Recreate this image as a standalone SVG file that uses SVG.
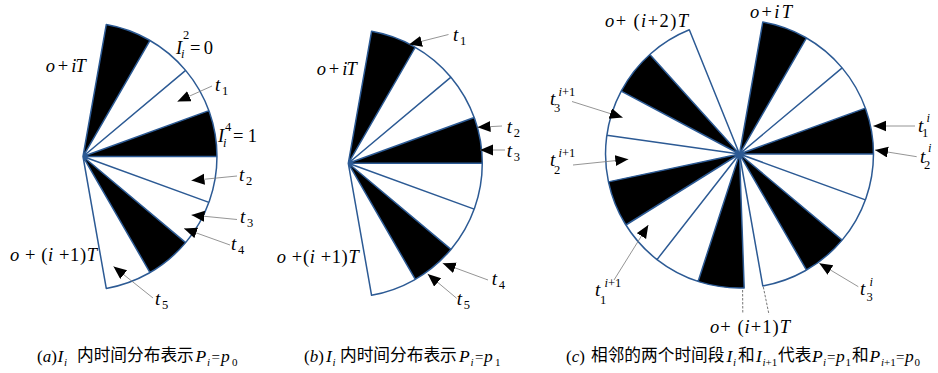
<svg xmlns="http://www.w3.org/2000/svg" xmlns:xlink="http://www.w3.org/1999/xlink" width="938" height="373" viewBox="0 0 938 373">
<style>
.ln{fill:none;stroke:#2C5A94;stroke-width:1.5;stroke-linejoin:round}
.bk{fill:#000}
.ld{fill:none;stroke:#7a7a7a;stroke-width:0.8;marker-end:url(#ah)}
.dsh{fill:none;stroke:#666;stroke-width:0.9;stroke-dasharray:2.5 1.5}
text{font-family:"Liberation Serif","Times New Roman",serif;fill:#000}
.m{font-size:18.5px;font-style:italic}
.t{font-size:19px;font-style:italic}
.s{font-size:12.5px;font-style:normal}
.si{font-size:12.5px;font-style:italic}
.n{font-style:normal}
.cp{font-size:17px}
.ci{font-size:17.5px;font-style:italic}
.ce{font-size:15px}
.cs{font-size:11px;font-style:normal}
.csi{font-size:11px;font-style:italic}
.cj{font-family:"Noto Sans CJK SC",sans-serif;font-size:16.7px}
</style>
<defs>
<marker id="ah" markerUnits="userSpaceOnUse" markerWidth="14" markerHeight="12" refX="13" refY="5.5" orient="auto" viewBox="0 0 14 12"><path d="M0,0 L13,5.5 L0,11 Z" fill="#000"/></marker>
<g id="fan">
<path class="bk" d="M0,0 L23.27,-131.96 A134,134 0 0 1 67,-116.05 Z M0,0 L125.92,-45.83 A134,134 0 0 1 134,0 Z M0,0 L102.65,86.13 A134,134 0 0 1 67,116.05 Z"/>
<path class="ln" d="M0,0 L23.27,-131.96 A134,134 0 0 1 23.27,131.96 Z M0,0 L67,-116.05 M0,0 L102.65,-86.13 M0,0 L125.92,-45.83 M0,0 L134,0 M0,0 L125.92,45.83 M0,0 L102.65,86.13 M0,0 L67,116.05"/>
</g>
</defs>

<!-- Panel a -->
<g id="panel-a">
<use xlink:href="#fan" href="#fan" transform="translate(83,156.5)"/>
<text class="m" x="45.7" y="72" textLength="40" lengthAdjust="spacing">o <tspan class="n">+</tspan> iT</text>
<text class="m" x="10" y="261" textLength="87" lengthAdjust="spacing">o <tspan class="n">+ (</tspan>i <tspan class="n">+1)</tspan>T</text>
<text class="m" x="176" y="54">I</text><text class="s" x="183" y="39">2</text><text class="si" x="181" y="58">i</text><text class="m n" x="190" y="54" textLength="23" lengthAdjust="spacing">=0</text>
<text class="m" x="218" y="142">I</text><text class="s" x="225" y="131">4</text><text class="si" x="223" y="147">i</text><text class="m n" x="233" y="142" textLength="24" lengthAdjust="spacing">=1</text>
<text class="t" x="215" y="91">t</text><text class="s" x="222" y="95">1</text>
<text class="t" x="239" y="181">t</text><text class="s" x="246" y="185">2</text>
<text class="t" x="240" y="223">t</text><text class="s" x="247" y="227">3</text>
<text class="t" x="231" y="250">t</text><text class="s" x="238" y="254">4</text>
<text class="t" x="155" y="305">t</text><text class="s" x="162" y="309">5</text>
</g>

<!-- Panel b -->
<g id="panel-b">
<use xlink:href="#fan" href="#fan" transform="translate(348.3,163.3)"/>
<text class="m" x="316.7" y="75" textLength="40" lengthAdjust="spacing">o <tspan class="n">+</tspan> iT</text>
<text class="m" x="276.7" y="263" textLength="82" lengthAdjust="spacing">o <tspan class="n">+(</tspan>i <tspan class="n">+1)</tspan>T</text>
<text class="t" x="453" y="41">t</text><text class="s" x="460" y="45">1</text>
<text class="t" x="506.7" y="133">t</text><text class="s" x="513.7" y="137">2</text>
<text class="t" x="506.7" y="156.5">t</text><text class="s" x="513.7" y="160.5">3</text>
<text class="t" x="491.7" y="284.5">t</text><text class="s" x="498.7" y="288.5">4</text>
<text class="t" x="456.7" y="305">t</text><text class="s" x="463.7" y="309">5</text>
</g>

<!-- Panel c -->
<g id="panel-c">
<use xlink:href="#fan" href="#fan" transform="translate(739.5,154)"/>
<use xlink:href="#fan" href="#fan" transform="translate(739.5,154) rotate(168)"/>
<path class="dsh" d="M742.6,290 L742.8,313 M763.3,287 L769,314.5"/>
<text class="m" x="605" y="27" textLength="83" lengthAdjust="spacing">o<tspan class="n">+ (</tspan>i<tspan class="n">+2)</tspan>T</text>
<text class="m" x="750" y="17.5" textLength="42" lengthAdjust="spacing">o<tspan class="n">+</tspan>iT</text>
<text class="m" x="710" y="333" textLength="80" lengthAdjust="spacing">o<tspan class="n">+ (</tspan>i<tspan class="n">+1)</tspan>T</text>
<text class="t" x="550" y="105">t</text><text class="si" x="558.5" y="96">i<tspan class="n">+1</tspan></text><text class="s" x="554" y="112">3</text>
<text class="t" x="550" y="166">t</text><text class="si" x="558.5" y="157">i<tspan class="n">+1</tspan></text><text class="s" x="554" y="174">2</text>
<text class="t" x="918" y="131.5">t</text><text class="si" x="926.5" y="121.5">i</text><text class="s" x="922" y="137">1</text>
<text class="t" x="920" y="163">t</text><text class="si" x="928" y="152">i</text><text class="s" x="924" y="168.5">2</text>
<text class="t" x="595" y="296">t</text><text class="si" x="604.5" y="287">i<tspan class="n">+1</tspan></text><text class="s" x="600" y="304">1</text>
<text class="t" x="860" y="295">t</text><text class="si" x="869.5" y="286">i</text><text class="s" x="866.5" y="301">3</text>
</g>

<!-- Connectors (arrows) -->
<g id="connectors">
<line class="ld" x1="212" y1="86" x2="177.5" y2="101.5"/>
<line class="ld" x1="237" y1="176" x2="191.5" y2="180.5"/>
<line class="ld" x1="237" y1="219.5" x2="191.5" y2="215"/>
<line class="ld" x1="230" y1="245" x2="184" y2="228.5"/>
<line class="ld" x1="153" y1="298" x2="113.5" y2="266.5"/>
<line class="ld" x1="448.5" y1="34.5" x2="409" y2="44.5"/>
<line class="ld" x1="502" y1="126" x2="477.5" y2="127.3"/>
<line class="ld" x1="505" y1="150" x2="480" y2="150"/>
<line class="ld" x1="488" y1="280" x2="442.7" y2="263.3"/>
<line class="ld" x1="456.7" y1="298.3" x2="427.7" y2="274"/>
<line class="ld" x1="572" y1="101.5" x2="622.7" y2="117.5"/>
<line class="ld" x1="573" y1="165" x2="628.3" y2="159.3"/>
<line class="ld" x1="915" y1="126" x2="873.3" y2="126"/>
<line class="ld" x1="916.7" y1="156.7" x2="875" y2="150"/>
<line class="ld" x1="614" y1="280" x2="648.3" y2="225"/>
<line class="ld" x1="858.3" y1="286.7" x2="819.3" y2="263.3"/>
</g>

<!-- Captions -->
<g id="caption-a">
<text class="cp" x="37" y="362">(<tspan font-style="italic">a</tspan>)</text>
<text class="ci" x="57.5" y="362">I</text><text class="csi" x="64" y="366">i</text>
<text class="cj" x="77" y="361">内时间分布表示</text>
<text class="ci" x="195.5" y="362">P</text><text class="csi" x="207" y="366">i</text>
<text class="ce" x="211.5" y="362">=</text>
<text class="ci" x="221" y="362">p</text><text class="cs" x="232" y="366">0</text>
</g>
<g id="caption-b">
<text class="cp" x="304" y="362">(<tspan font-style="italic">b</tspan>)</text>
<text class="ci" x="326" y="362">I</text><text class="csi" x="332.5" y="366">i</text>
<text class="cj" x="340" y="361">内时间分布表示</text>
<text class="ci" x="459" y="362">P</text><text class="csi" x="470.5" y="366">i</text>
<text class="ce" x="475" y="362">=</text>
<text class="ci" x="484" y="362">p</text><text class="cs" x="495" y="366">1</text>
</g>
<g id="caption-c">
<text class="cp" x="566" y="362">(<tspan font-style="italic">c</tspan>)</text>
<text class="cj" x="591" y="361">相邻的两个时间段</text>
<text class="ci" x="726.5" y="362">I</text><text class="csi" x="733" y="366">i</text>
<text class="cj" x="738" y="361">和</text>
<text class="ci" x="756" y="362">I</text><text class="csi" x="762.5" y="366">i<tspan class="n">+1</tspan></text>
<text class="cj" x="778" y="361">代表</text>
<text class="ci" x="812" y="362">P</text><text class="csi" x="823" y="366">i</text>
<text class="ce" x="827" y="362">=</text>
<text class="ci" x="836" y="362">p</text><text class="cs" x="845.5" y="366">1</text>
<text class="cj" x="852" y="361">和</text>
<text class="ci" x="869.5" y="362">P</text><text class="csi" x="881" y="366">i<tspan class="n">+1</tspan></text>
<text class="ce" x="896" y="362">=</text>
<text class="ci" x="905" y="362">p</text><text class="cs" x="914.5" y="366">0</text>
</g>
</svg>
